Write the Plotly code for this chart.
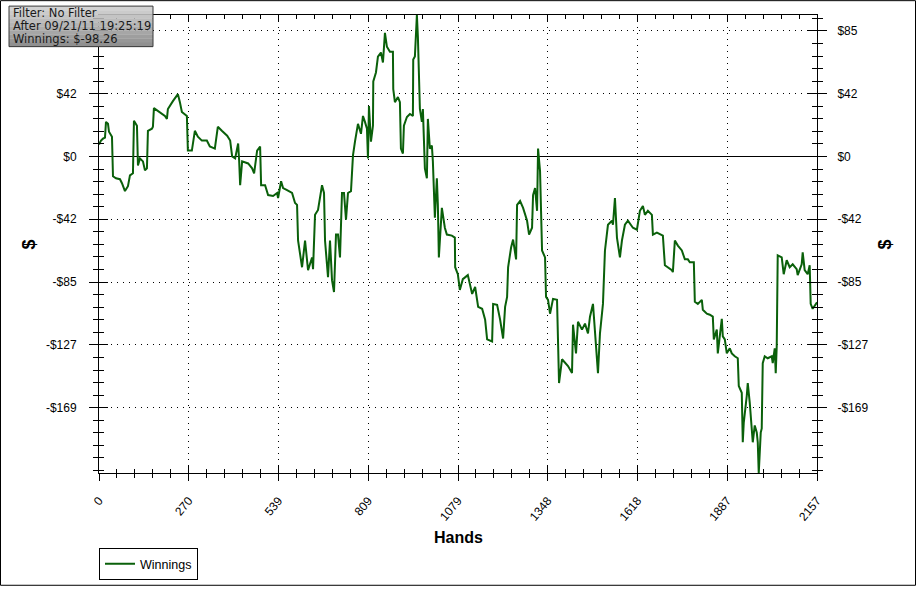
import plotly.graph_objects as go

hands = [0,6,12,18,21,27,30,39,42,51,63,69,78,87,93,102,105,114,117,123,
132,138,144,147,159,162,165,177,189,198,204,207,222,231,237,243,249,264,267,279,
288,297,309,324,333,348,357,369,385,394,400,409,418,421,424,430,448,460,466,475,
484,487,499,508,523,535,538,547,553,565,580,589,595,598,610,619,628,640,643,649,
658,670,676,679,688,694,700,706,712,718,724,730,736,742,748,757,763,769,778,787,
793,799,805,808,811,817,823,824,832,838,847,853,859,865,874,883,884,889,898,904,
907,913,916,925,934,943,944,949,952,955,958,961,964,970,973,979,985,988,994,1000,
1003,1009,1015,1018,1021,1030,1039,1045,1060,1069,1070,1078,1084,1093,1108,1121,1130,1139,1151,1160,
1166,1181,1184,1196,1205,1214,1220,1226,1229,1238,1244,1253,1256,1265,1274,1286,1292,1301,1304,1310,
1316,1319,1325,1331,1340,1343,1349,1355,1364,1376,1377,1382,1391,1400,1409,1421,1424,1433,1439,1451,
1460,1469,1475,1484,1490,1499,1505,1514,1520,1529,1541,1544,1550,1556,1565,1571,1580,1589,1604,1616,
1625,1634,1640,1649,1661,1664,1676,1694,1700,1709,1721,1724,1730,1739,1751,1760,1769,1775,1787,1790,
1799,1811,1814,1826,1835,1844,1847,1856,1859,1871,1874,1880,1886,1895,1901,1910,1919,1922,1931,1934,
1937,1946,1949,1955,1964,1970,1976,1979,1982,1988,1991,1994,2000,2009,2021,2024,2030,2033,2036,2039,
2051,2057,2066,2075,2084,2096,2099,2111,2114,2120,2129,2135,2138,2144,2157]

winnings = [8.0,10.7,12.0,12.7,23.3,22.0,16.7,13.3,-13.3,-14.7,
-15.3,-18.0,-23.3,-20.0,-12.7,-11.3,24.0,20.7,-6.0,-1.3,
-3.3,-9.3,-8.0,17.3,18.7,20.0,32.6,30.6,28.6,27.3,
25.3,32.0,37.3,40.0,42.0,36.6,30.0,27.3,4.0,4.0,
17.3,13.3,10.7,10.7,6.7,5.3,20.0,17.3,14.0,10.7,
0.0,-1.3,8.7,-2.7,-19.3,-3.3,-4.7,-8.0,-11.3,4.0,
6.7,-19.3,-19.3,-26.0,-26.6,-24.6,-28.0,-16.7,-21.3,-22.7,
-24.6,-31.3,-32.6,-56.6,-74.6,-56.6,-76.6,-68.0,-75.9,-39.3,
-36.0,-19.3,-24.6,-56.6,-81.3,-56.6,-83.3,-91.3,-52.6,-52.6,
-68.0,-24.6,-24.6,-42.6,-24.6,-23.3,0.7,10.0,22.0,15.3,
27.3,23.3,18.7,-1.3,34.0,10.0,20.7,50.6,56.6,67.3,
70.0,63.3,83.3,73.9,70.6,70.6,45.3,36.6,40.0,36.6,
5.3,2.0,20.7,26.6,28.6,27.3,65.3,67.3,78.6,95.3,
80.6,56.6,32.0,23.3,32.0,-8.0,-14.7,25.3,5.3,7.3,
-3.3,-41.3,-14.7,-32.6,-68.0,-34.6,-48.0,-52.6,-53.3,-54.6,
-74.6,-79.3,-89.9,-82.6,-79.9,-92.6,-87.9,-101.3,-102.6,-109.9,
-123.2,-124.6,-99.3,-99.9,-109.9,-122.6,-101.3,-94.6,-74.6,-61.3,
-56.0,-69.3,-32.6,-30.0,-34.6,-43.3,-52.6,-48.0,-26.0,-21.3,
-36.6,5.3,-10.0,-63.3,-68.0,-94.6,-96.6,-105.9,-95.9,-96.6,
-105.9,-152.6,-136.6,-139.2,-141.2,-145.9,-113.3,-132.6,-111.3,-116.6,
-112.6,-119.2,-107.9,-99.3,-119.2,-145.9,-119.2,-99.3,-63.3,-46.0,
-43.3,-46.0,-28.0,-54.6,-68.0,-56.6,-46.0,-43.3,-48.0,-49.3,
-36.6,-33.3,-39.3,-36.6,-39.3,-52.6,-51.3,-53.3,-73.3,-74.6,
-76.6,-77.9,-56.6,-60.0,-63.3,-69.3,-69.3,-71.3,-71.3,-97.9,
-99.3,-96.6,-103.3,-105.9,-106.6,-107.9,-123.2,-116.6,-132.6,-109.3,
-121.2,-123.2,-132.6,-129.2,-132.6,-134.6,-135.9,-154.6,-159.2,-192.5,
-179.2,-161.2,-152.6,-165.9,-192.5,-181.2,-185.9,-192.5,-213.2,-185.9,
-183.2,-139.2,-134.6,-135.9,-134.6,-139.2,-129.2,-145.9,-127.9,-66.6,
-68.0,-79.3,-69.9,-74.6,-72.6,-75.9,-79.9,-72.6,-64.6,-76.6,
-79.3,-73.3,-99.3,-102.6,-98.26]

assert len(hands) == len(winnings)

x_tick_labels = ["0", "270", "539", "809", "1079", "1348", "1618", "1887", "2157"]
y_tick_labels = ["-$169", "-$127", "-$85", "-$42", "$0", "$42", "$85"]
# on the left axis the top label is hidden under the info box in the reference
y_tick_labels_left = y_tick_labels[:-1] + [""]
y_tick_index = [-4, -3, -2, -1, 0, 1, 2]
y_tick_step = 42.3
info_lines = ["Filter: No Filter", "After 09/21/11 19:25:19", "Winnings: $-98.26"]
series_name = "Winnings"
x_title = "Hands"
y_title = "$"

# ---- geometry / style ----
W, H = 916, 592
L, R, T, B = 99, 99, 15, 114
PW, PH = W - L - R, H - T - B
GREEN = "#0a600a"
FONT = "Liberation Sans"
GRID_DASH = "1px,5px"

x_max = hands[-1]
x_range = [0, x_max]
y_range = [min(winnings), max(winnings)]

x_major = [i * x_max / 8 for i in range(9)]
x_minor = [i * x_max / 40 for i in range(41)]
y_major = [k * y_tick_step for k in y_tick_index]
y_minor = [k * y_tick_step / 5 for k in range(-30, 20)
           if y_range[0] <= k * y_tick_step / 5 <= y_range[1]]

fig = go.Figure()
fig.add_trace(go.Scatter(x=hands, y=winnings, mode="lines", name=series_name,
                         line=dict(color=GREEN, width=2), xaxis="x", yaxis="y"))
# helper traces so the overlay axes are drawn
fig.add_trace(go.Scatter(x=[None], y=[None], xaxis="x2", yaxis="y3",
                         showlegend=False, hoverinfo="skip"))
fig.add_trace(go.Scatter(x=[None], y=[None], xaxis="x", yaxis="y2",
                         showlegend=False, hoverinfo="skip"))

tickfont = dict(family=FONT, size=12, color="#000")

common_x = dict(range=x_range, tickmode="array", tickvals=x_major,
                showline=True, linecolor="#000", linewidth=1, zeroline=False)
common_y = dict(range=y_range, tickmode="array", tickvals=y_major,
                showline=True, linecolor="#000", linewidth=1)

fig.update_layout(
    width=W, height=H, autosize=False,
    margin=dict(l=L, r=R, t=T, b=B, pad=0),
    paper_bgcolor="#fff", plot_bgcolor="#fff",
    xaxis=dict(**common_x, ticktext=x_tick_labels, ticks="outside", ticklen=7,
               tickcolor="#000", tickwidth=1, tickangle=-50, tickfont=tickfont,
               ticklabelstandoff=8,
               showgrid=True, gridcolor="#000", griddash=GRID_DASH, gridwidth=1,
               minor=dict(tickmode="array", tickvals=x_minor, ticks="outside",
                          ticklen=4, tickcolor="#000", showgrid=False)),
    xaxis2=dict(**common_x, overlaying="x", anchor="y", side="bottom",
                ticks="inside", ticklen=7, tickcolor="#000", showticklabels=False,
                mirror="ticks", showgrid=False,
                minor=dict(tickmode="array", tickvals=x_minor, ticks="inside",
                           ticklen=4, tickcolor="#000", showgrid=False)),
    yaxis=dict(**common_y, ticktext=y_tick_labels_left, ticks="outside", ticklen=9,
               tickcolor="#000", tickfont=tickfont, ticklabelstandoff=10,
               showgrid=True, gridcolor="#000", griddash=GRID_DASH, gridwidth=1,
               zeroline=True, zerolinecolor="#000", zerolinewidth=1,
               minor=dict(tickmode="array", tickvals=y_minor, ticks="outside",
                          ticklen=5, tickcolor="#000", showgrid=False)),
    yaxis2=dict(**common_y, ticktext=y_tick_labels, overlaying="y", side="right",
                anchor="x", ticks="outside", ticklen=9, tickcolor="#000",
                tickfont=tickfont, ticklabelstandoff=8, showgrid=False, zeroline=False,
                minor=dict(tickmode="array", tickvals=y_minor, ticks="outside",
                           ticklen=5, tickcolor="#000", showgrid=False)),
    yaxis3=dict(**common_y, overlaying="y", side="left", anchor="x2",
                ticks="inside", ticklen=9, tickcolor="#000", showticklabels=False,
                mirror="ticks", showgrid=False, zeroline=False,
                minor=dict(tickmode="array", tickvals=y_minor, ticks="inside",
                           ticklen=5, tickcolor="#000", showgrid=False)),
    showlegend=True,
    legend=dict(x=0, y=(H - B - 554) / PH, xanchor="left", yanchor="top",
                bgcolor="#fff", bordercolor="#000", borderwidth=1,
                font=dict(family=FONT, size=12.5, color="#000"),
                itemwidth=30, tracegroupgap=0),
)

def px_x(px):
    return (px - L) / PW

def px_y(py):
    return (H - B - py) / PH

# outer frame
fig.add_shape(type="rect", xref="paper", yref="paper",
              x0=px_x(0.5), x1=px_x(W - 0.5), y0=px_y(H - 0.5), y1=px_y(0.5),
              line=dict(color="#000", width=1), fillcolor="rgba(0,0,0,0)", layer="above")

# axis titles
fig.add_annotation(text=f"<b>{x_title}</b>", xref="paper", yref="paper",
                   x=0.5, y=px_y(543), xanchor="center", yanchor="middle",
                   showarrow=False, font=dict(family=FONT, size=16, color="#000"))
fig.add_annotation(text=f"<b>{y_title}</b>", xref="paper", yref="paper",
                   x=px_x(29), y=px_y(247), xanchor="center", yanchor="middle",
                   textangle=-90, showarrow=False,
                   font=dict(family=FONT, size=18, color="#000"))
fig.add_annotation(text=f"<b>{y_title}</b>", xref="paper", yref="paper",
                   x=px_x(885), y=px_y(247), xanchor="center", yanchor="middle",
                   textangle=-90, showarrow=False,
                   font=dict(family=FONT, size=18, color="#000"))

# info box: gray gradient panel built from thin bands, then the text lines
BOX_L, BOX_R, BOX_T, BOX_B = 9, 153, 6, 47
n_bands = 10
c_top, c_bot = 214, 140
for i in range(n_bands):
    y0 = BOX_T + (BOX_B - BOX_T) * i / n_bands
    y1 = BOX_T + (BOX_B - BOX_T) * (i + 1) / n_bands
    c = round(c_top + (c_bot - c_top) * (i + 0.5) / n_bands)
    fig.add_shape(type="rect", xref="paper", yref="paper",
                  x0=px_x(BOX_L), x1=px_x(BOX_R), y0=px_y(y1 + 0.3), y1=px_y(y0),
                  line=dict(width=0), fillcolor=f"rgb({c},{c},{c})", layer="above")
fig.add_shape(type="rect", xref="paper", yref="paper",
              x0=px_x(BOX_L), x1=px_x(BOX_R), y0=px_y(BOX_B), y1=px_y(BOX_T),
              line=dict(color="#3a3a3a", width=1), fillcolor="rgba(0,0,0,0)",
              layer="above")
for i, line in enumerate(info_lines):
    fig.add_annotation(text=line, xref="paper", yref="paper",
                       x=px_x(BOX_L + 2), y=px_y(BOX_T + 7 + 13 * i),
                       xanchor="left", yanchor="middle", align="left",
                       showarrow=False,
                       font=dict(family="DejaVu Sans", size=11.5, color="#1a1a1a"))

fig.write_html("out.html", config={"displayModeBar": False},
               post_script="document.body.style.margin='0';document.body.style.overflow='hidden';")
